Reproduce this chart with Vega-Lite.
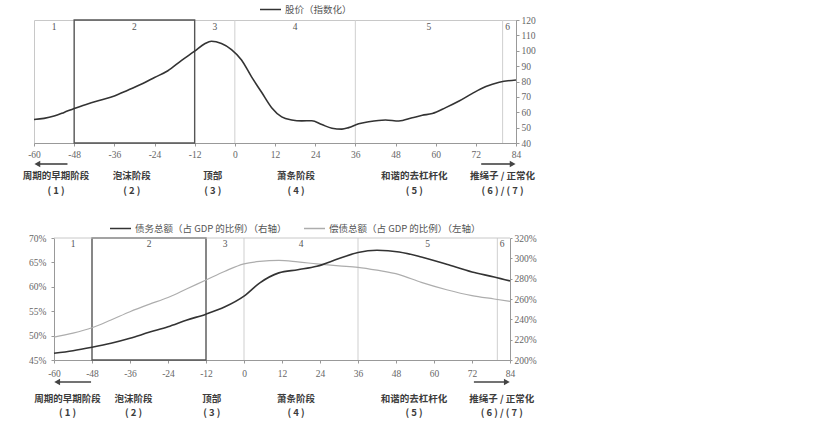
{
  "$schema": "https://vega.github.io/schema/vega-lite/v6.json",
  "background": "white",
  "padding": {"left": 22, "top": -3, "right": 0, "bottom": 0},
  "config": {
    "view": {"stroke": null},
    "axis": {"labelFont": "Liberation Serif", "labelFontSize": 9.5, "labelColor": "#666", "domainColor": "#999", "tickColor": "#999", "grid": false, "labelFlush": false, "labelOverlap": false},
    "text": {"font": "Noto Sans CJK SC"},
    "legend": {"direction": "horizontal", "symbolType": "stroke", "symbolSize": 440, "symbolStrokeWidth": 1.5, "labelFont": "Noto Sans CJK SC", "labelFontSize": 9.5, "labelColor": "#555", "columnPadding": 14, "labelLimit": 300, "padding": 0, "labelOffset": 3}
  },
  "datasets": {
    "stock": [
      {"month": -60, "value": 55.3}, {"month": -57, "value": 56}, {"month": -54, "value": 57.5}, {"month": -51, "value": 59.9},
      {"month": -48, "value": 62.5}, {"month": -44, "value": 65.4}, {"month": -40, "value": 68}, {"month": -36, "value": 70.6},
      {"month": -32, "value": 74.3}, {"month": -28, "value": 78.2}, {"month": -24, "value": 82.6}, {"month": -20, "value": 87},
      {"month": -16, "value": 93.6}, {"month": -12, "value": 99.7}, {"month": -9, "value": 104.5}, {"month": -7, "value": 106.2},
      {"month": -4, "value": 104.7}, {"month": -1, "value": 100.8}, {"month": 2, "value": 94}, {"month": 5, "value": 83},
      {"month": 8, "value": 73}, {"month": 11, "value": 63}, {"month": 14, "value": 57}, {"month": 17, "value": 55},
      {"month": 20, "value": 54.4}, {"month": 23, "value": 54.5}, {"month": 26, "value": 52}, {"month": 29, "value": 49.6},
      {"month": 32, "value": 49}, {"month": 34, "value": 50}, {"month": 37, "value": 52.5}, {"month": 40, "value": 53.8},
      {"month": 45, "value": 55}, {"month": 49, "value": 54.3}, {"month": 53, "value": 56.4}, {"month": 56, "value": 58},
      {"month": 59, "value": 59.2}, {"month": 63, "value": 63}, {"month": 67, "value": 67.3}, {"month": 71, "value": 72.3},
      {"month": 75, "value": 76.7}, {"month": 79, "value": 79.5}, {"month": 84, "value": 81}
    ],
    "debt": [
      {"month": -60, "service": 49.7, "total": 206.6}, {"month": -54, "service": 50.5, "total": 209.1},
      {"month": -48, "service": 51.6, "total": 212.5}, {"month": -42, "service": 53.2, "total": 216.4},
      {"month": -36, "service": 54.9, "total": 221.3}, {"month": -30, "service": 56.4, "total": 227.2},
      {"month": -24, "service": 57.8, "total": 232.7}, {"month": -18, "service": 59.6, "total": 239.3},
      {"month": -12, "service": 61.4, "total": 245.1}, {"month": -6, "service": 63.2, "total": 252.3},
      {"month": 0, "service": 64.7, "total": 262.8}, {"month": 5, "service": 65.2, "total": 275.9},
      {"month": 11, "service": 65.4, "total": 285.7}, {"month": 17, "service": 65.1, "total": 288.8},
      {"month": 23, "service": 64.7, "total": 292.2}, {"month": 30, "service": 64.3, "total": 299.8},
      {"month": 36, "service": 64.0, "total": 305.7}, {"month": 42, "service": 63.4, "total": 307.9},
      {"month": 49, "service": 62.5, "total": 306.3}, {"month": 56, "service": 60.9, "total": 301.4},
      {"month": 64, "service": 59.4, "total": 294.2}, {"month": 72, "service": 58.2, "total": 286.6},
      {"month": 79, "service": 57.5, "total": 281.7}, {"month": 84, "service": 57.0, "total": 277.8}
    ],
    "box": [{"start": -48, "end": -12}],
    "splits": [{"month": 0}, {"month": 36}, {"month": 80}],
    "phases": [
      {"month": -54, "label": "1"}, {"month": -30, "label": "2"}, {"month": -6, "label": "3"},
      {"month": 18, "label": "4"}, {"month": 58, "label": "5"}, {"month": 81.5, "label": "6"}
    ],
    "topNames": [
      {"month": -53.4, "name": "周期的早期阶段", "num": "( 1 )"},
      {"month": -30.8, "name": "泡沫阶段", "num": "( 2 )"},
      {"month": -6.6, "name": "顶部", "num": "( 3 )"},
      {"month": 18.3, "name": "萧条阶段", "num": "( 4 )"},
      {"month": 53.6, "name": "和谐的去杠杆化", "num": "( 5 )"},
      {"month": 80, "name": "推绳子 / 正常化", "num": "( 6 ) / ( 7 )"}
    ],
    "bottomNames": [
      {"month": -55.7, "name": "周期的早期阶段", "num": "( 1 )"},
      {"month": -34.9, "name": "泡沫阶段", "num": "( 2 )"},
      {"month": -10.2, "name": "顶部", "num": "( 3 )"},
      {"month": 16.4, "name": "萧条阶段", "num": "( 4 )"},
      {"month": 53.7, "name": "和谐的去杠杆化", "num": "( 5 )"},
      {"month": 81.4, "name": "推绳子 / 正常化", "num": "( 6 ) / ( 7 )"}
    ],
    "topArrows": [
      {"tail": -50, "tip": -59, "dir": "left"},
      {"tail": 73.6, "tip": 83, "dir": "right"}
    ],
    "bottomArrows": [
      {"tail": -48.3, "tip": -59, "dir": "left"},
      {"tail": 72.6, "tip": 83, "dir": "right"}
    ]
  },
  "bounds": "flush",
  "spacing": 95,
  "resolve": {"scale": {"x": "independent", "y": "independent", "color": "independent", "shape": "independent"}, "legend": {"color": "independent"}},
  "vconcat": [
    {
      "width": 482,
      "height": 123,
      "view": {"stroke": "#c8c8c8", "strokeWidth": 1},
      "resolve": {"axis": {"y": "independent"}},
      "layer": [
        {
          "data": {"name": "box"},
          "mark": {"type": "rect", "fillOpacity": 0, "stroke": "#555", "strokeWidth": 1.4},
          "encoding": {
            "x": {"field": "start", "type": "quantitative", "title": null},
            "x2": {"field": "end"},
            "y": {"datum": 40, "type": "quantitative", "axis": null},
            "y2": {"datum": 120}
          }
        },
        {
          "data": {"name": "splits"},
          "mark": {"type": "rule", "color": "#cfcfcf", "strokeWidth": 1},
          "encoding": {"x": {"field": "month", "type": "quantitative", "title": null}}
        },
        {
          "data": {"name": "stock"},
          "mark": {"type": "line", "interpolate": "monotone", "strokeWidth": 1.6},
          "encoding": {
            "x": {
              "field": "month", "type": "quantitative", "title": null,
              "scale": {"domain": [-60, 84], "nice": false, "zero": false},
              "axis": {"values": [-60, -48, -36, -24, -12, 0, 12, 24, 36, 48, 60, 72, 84], "labelExpr": "'' + datum.value", "tickSize": 3, "labelPadding": 3}
            },
            "y": {
              "field": "value", "type": "quantitative", "title": null,
              "scale": {"domain": [40, 120], "nice": false, "zero": false},
              "axis": {"orient": "right", "values": [40, 50, 60, 70, 80, 90, 100, 110, 120], "labelOverlap": false, "tickSize": 3, "labelPadding": 2}
            },
            "color": {
              "datum": "股价（指数化）",
              "scale": {"range": ["#333333"]},
              "legend": {"title": null, "orient": "none", "legendX": 225, "legendY": -22}
            }
          }
        },
        {
          "data": {"name": "phases"},
          "mark": {"type": "text", "font": "Liberation Serif", "fontSize": 9.5, "color": "#555", "dy": 7, "baseline": "middle"},
          "encoding": {
            "x": {"field": "month", "type": "quantitative", "title": null},
            "y": {"datum": 120, "type": "quantitative", "axis": null},
            "text": {"field": "label"}
          }
        },
        {
          "data": {"name": "topNames"},
          "mark": {"type": "text", "fontSize": 9.5, "fontWeight": "bold", "color": "#3c3c3c", "dy": 33, "baseline": "middle"},
          "encoding": {
            "x": {"field": "month", "type": "quantitative", "title": null},
            "y": {"datum": 40, "type": "quantitative", "axis": null},
            "text": {"field": "name"}
          }
        },
        {
          "data": {"name": "topNames"},
          "mark": {"type": "text", "fontSize": 9.5, "fontWeight": "bold", "color": "#3c3c3c", "dy": 47.5, "baseline": "middle"},
          "encoding": {
            "x": {"field": "month", "type": "quantitative", "title": null},
            "y": {"datum": 40, "type": "quantitative", "axis": null},
            "text": {"field": "num"}
          }
        },
        {
          "data": {"name": "topArrows"},
          "mark": {"type": "rule", "color": "#444", "strokeWidth": 1.6, "yOffset": 21},
          "encoding": {
            "x": {"field": "tail", "type": "quantitative", "title": null},
            "x2": {"field": "tip"},
            "y": {"datum": 40, "type": "quantitative", "axis": null}
          }
        },
        {
          "data": {"name": "topArrows"},
          "mark": {"type": "point", "filled": true, "color": "#444", "size": 45, "opacity": 1, "yOffset": 21},
          "encoding": {
            "x": {"field": "tip", "type": "quantitative", "title": null},
            "y": {"datum": 40, "type": "quantitative", "axis": null},
            "shape": {"field": "dir", "type": "nominal", "scale": {"domain": ["left", "right"], "range": ["triangle-left", "triangle-right"]}, "legend": null}
          }
        }
      ]
    },
    {
      "width": 482,
      "height": 122,
      "resolve": {"scale": {"y": "independent"}},
      "layer": [
        {
          "resolve": {"axis": {"y": "independent"}},
          "layer": [
            {
              "data": {"name": "box"},
              "mark": {"type": "rect", "fillOpacity": 0, "stroke": "#555", "strokeWidth": 1.4},
              "encoding": {
                "x": {"field": "start", "type": "quantitative", "title": null},
                "x2": {"field": "end"},
                "y": {"datum": 45, "type": "quantitative", "axis": null},
                "y2": {"datum": 70}
              }
            },
            {
              "data": {"name": "splits"},
              "mark": {"type": "rule", "color": "#cfcfcf", "strokeWidth": 1},
              "encoding": {"x": {"field": "month", "type": "quantitative", "title": null}}
            },
            {
              "data": {"values": [{"edge": "top"}]},
              "mark": {"type": "rule", "color": "#c8c8c8", "strokeWidth": 1},
              "encoding": {
                "x": {"datum": -60, "type": "quantitative", "title": null},
                "x2": {"datum": 84},
                "y": {"datum": 70, "type": "quantitative", "axis": null}
              }
            },
            {
              "data": {"name": "debt"},
              "mark": {"type": "line", "interpolate": "monotone", "strokeWidth": 1.2},
              "encoding": {
                "x": {
                  "field": "month", "type": "quantitative", "title": null,
                  "scale": {"domain": [-60, 84], "range": [20, 476], "nice": false, "zero": false},
                  "axis": {"values": [-60, -48, -36, -24, -12, 0, 12, 24, 36, 48, 60, 72, 84], "labelExpr": "'' + datum.value", "tickSize": 3, "labelPadding": 5}
                },
                "y": {
                  "field": "service", "type": "quantitative", "title": null,
                  "scale": {"domain": [45, 70], "nice": false, "zero": false},
                  "axis": {"orient": "left", "offset": -20, "values": [45, 50, 55, 60, 65, 70], "labelOverlap": false, "labelExpr": "datum.value + '%'", "tickSize": 3, "labelPadding": 5}
                },
                "color": {
                  "datum": "偿债总额（占 GDP 的比例）（左轴）",
                  "scale": {"domain": ["债务总额（占 GDP 的比例）（右轴）", "偿债总额（占 GDP 的比例）（左轴）"], "range": ["#333333", "#adadad"]},
                  "legend": {"title": null, "orient": "none", "legendX": 75, "legendY": -21}
                }
              }
            },
            {
              "data": {"name": "phases"},
              "mark": {"type": "text", "font": "Liberation Serif", "fontSize": 9.5, "color": "#555", "dy": 6, "baseline": "middle"},
              "encoding": {
                "x": {"field": "month", "type": "quantitative", "title": null},
                "y": {"datum": 70, "type": "quantitative", "axis": null},
                "text": {"field": "label"}
              }
            },
            {
              "data": {"name": "bottomNames"},
              "mark": {"type": "text", "fontSize": 9.5, "fontWeight": "bold", "color": "#3c3c3c", "dy": 39, "baseline": "middle"},
              "encoding": {
                "x": {"field": "month", "type": "quantitative", "title": null},
                "y": {"datum": 45, "type": "quantitative", "axis": null},
                "text": {"field": "name"}
              }
            },
            {
              "data": {"name": "bottomNames"},
              "mark": {"type": "text", "fontSize": 9.5, "fontWeight": "bold", "color": "#3c3c3c", "dy": 53, "baseline": "middle"},
              "encoding": {
                "x": {"field": "month", "type": "quantitative", "title": null},
                "y": {"datum": 45, "type": "quantitative", "axis": null},
                "text": {"field": "num"}
              }
            },
            {
              "data": {"name": "bottomArrows"},
              "mark": {"type": "rule", "color": "#444", "strokeWidth": 1.6, "yOffset": 22},
              "encoding": {
                "x": {"field": "tail", "type": "quantitative", "title": null},
                "x2": {"field": "tip"},
                "y": {"datum": 45, "type": "quantitative", "axis": null}
              }
            },
            {
              "data": {"name": "bottomArrows"},
              "mark": {"type": "point", "filled": true, "color": "#444", "size": 45, "opacity": 1, "yOffset": 22},
              "encoding": {
                "x": {"field": "tip", "type": "quantitative", "title": null},
                "y": {"datum": 45, "type": "quantitative", "axis": null},
                "shape": {"field": "dir", "type": "nominal", "scale": {"domain": ["left", "right"], "range": ["triangle-left", "triangle-right"]}, "legend": null}
              }
            }
          ]
        },
        {
          "data": {"name": "debt"},
          "mark": {"type": "line", "interpolate": "monotone", "strokeWidth": 1.6},
          "encoding": {
            "x": {"field": "month", "type": "quantitative", "title": null},
            "y": {
              "field": "total", "type": "quantitative", "title": null,
              "scale": {"domain": [200, 320], "nice": false, "zero": false},
              "axis": {"orient": "right", "offset": -6, "values": [200, 220, 240, 260, 280, 300, 320], "labelOverlap": false, "labelExpr": "datum.value + '%'", "tickSize": 2, "labelPadding": 2}
            },
            "color": {"datum": "债务总额（占 GDP 的比例）（右轴）"}
          }
        }
      ]
    }
  ]
}
